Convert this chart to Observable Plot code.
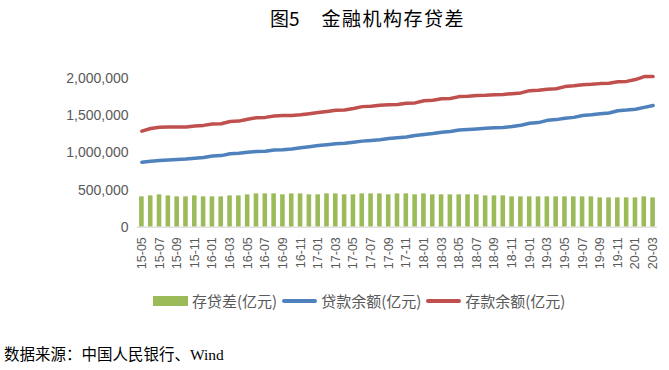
<!DOCTYPE html>
<html><head><meta charset="utf-8">
<script src="https://cdn.jsdelivr.net/npm/d3@7"></script>
<script src="https://cdn.jsdelivr.net/npm/@observablehq/plot@0.6"></script>
<style>
body{margin:0;background:#fff;}
#wrap{position:relative;width:669px;height:370px;overflow:hidden;background:#fff;}
#title{position:absolute;top:4px;left:270px;font-family:"Noto Sans CJK SC",sans-serif;font-size:19px;color:#000;white-space:nowrap;line-height:28px;}
#chart{position:absolute;top:40px;left:0;}
#legend{position:absolute;top:290px;left:153px;display:flex;align-items:center;font-family:"Noto Sans CJK SC",sans-serif;font-size:15px;color:#595959;white-space:nowrap;line-height:22px;}
#legend .sw{display:inline-block;width:35px;margin-right:4px;}
#legend .item{display:flex;align-items:center;margin-right:5px;}
#caption{position:absolute;top:342px;left:4px;font-family:"Noto Sans CJK SC",sans-serif;font-size:15.5px;color:#000;white-space:nowrap;line-height:22px;}
#caption .w{font-family:"Liberation Serif",serif;}
</style></head>
<body>
<div id="wrap">
  <div id="title"><span>图5</span><span style="margin-left:22px;letter-spacing:1.5px">金融机构存贷差</span></div>
  <div id="chart"></div>
  <div id="legend">
    <div class="item"><span class="sw" style="height:10px;background:#9BBB59"></span>存贷差(亿元)</div>
    <div class="item"><span class="sw" style="height:4px;border-radius:2px;background:#4F81BD"></span>贷款余额(亿元)</div>
    <div class="item"><span class="sw" style="height:4px;border-radius:2px;background:#C0504D"></span>存款余额(亿元)</div>
  </div>
  <div id="caption">数据来源：中国人民银行、<span class="w">Wind</span></div>
</div>
<script>
const months = [
  "15-05","15-06","15-07","15-08","15-09","15-10","15-11","15-12",
  "16-01","16-02","16-03","16-04","16-05","16-06","16-07","16-08","16-09","16-10","16-11","16-12",
  "17-01","17-02","17-03","17-04","17-05","17-06","17-07","17-08","17-09","17-10","17-11","17-12",
  "18-01","18-02","18-03","18-04","18-05","18-06","18-07","18-08","18-09","18-10","18-11","18-12",
  "19-01","19-02","19-03","19-04","19-05","19-06","19-07","19-08","19-09","19-10","19-11","19-12",
  "20-01","20-02","20-03"
];
// 存贷差(亿元)
const gap = [
  409000,422000,436000,422000,409000,409000,422000,409000,409000,409000,
  422000,422000,436000,449000,449000,449000,436000,449000,449000,436000,
  436000,449000,449000,436000,436000,449000,449000,449000,436000,449000,
  449000,436000,449000,436000,436000,436000,436000,436000,436000,422000,
  422000,422000,409000,409000,409000,409000,409000,409000,409000,409000,
  409000,409000,395000,395000,395000,395000,395000,409000,395000
];
// 贷款余额(亿元)
const loans = [
  876000,890000,900000,905000,912000,918000,930000,940000,960000,965000,
  990000,997000,1010000,1020000,1025000,1040000,1045000,1055000,1070000,1085000,
  1100000,1112000,1125000,1132000,1145000,1160000,1170000,1180000,1195000,1205000,
  1215000,1235000,1250000,1262000,1280000,1290000,1310000,1317000,1325000,1335000,
  1340000,1345000,1357000,1375000,1400000,1410000,1440000,1450000,1467000,1480000,
  1505000,1515000,1530000,1540000,1570000,1578000,1590000,1615000,1640000
];
// 存款余额(亿元)
const deposits = [
  1294000,1330000,1348000,1350000,1352000,1350000,1365000,1372000,1392000,1395000,
  1425000,1430000,1455000,1475000,1480000,1500000,1505000,1505000,1515000,1530000,
  1545000,1560000,1575000,1580000,1600000,1625000,1630000,1645000,1650000,1655000,
  1670000,1675000,1705000,1710000,1730000,1735000,1760000,1765000,1775000,1778000,
  1785000,1790000,1800000,1810000,1840000,1845000,1860000,1865000,1895000,1905000,
  1920000,1925000,1935000,1940000,1960000,1965000,1990000,2030000,2032000
];
const yTicks = [0, 500000, 1000000, 1500000, 2000000];

const rows = months.map((m, i) => ({i, m, gap: gap[i], loans: loans[i], deposits: deposits[i]}));
const xTicks = months.map((m, i) => i).filter(i => i % 2 === 0);

const chart = Plot.plot({
  width: 669,
  height: 260,
  marginTop: 38.3,
  marginBottom: 73.3,
  marginLeft: 137,
  marginRight: 12,
  style: {fontFamily: "'Liberation Sans', Arial, sans-serif", background: "transparent"},
  x: {domain: [-0.5, months.length - 0.5]},
  y: {domain: [0, 2000000]},
  marks: [
    Plot.rectY(rows, {x1: d => d.i - 0.26, x2: d => d.i + 0.26, y: "gap", fill: "#9BBB59"}),
    Plot.ruleY([0], {stroke: "#D9D9D9", strokeWidth: 1.3}),
    Plot.line(rows, {x: "i", y: "loans", stroke: "#4F81BD", strokeWidth: 3.5, strokeLinejoin: "round", strokeLinecap: "round"}),
    Plot.line(rows, {x: "i", y: "deposits", stroke: "#C0504D", strokeWidth: 3.5, strokeLinejoin: "round", strokeLinecap: "round"}),
    Plot.axisY({ticks: yTicks, tickFormat: d3.format(","), tickSize: 0, tickPadding: 9, fontSize: 14, fill: "#595959", label: null}),
    Plot.axisX({ticks: xTicks, tickFormat: i => months[i], tickRotate: -90, tickSize: 0, tickPadding: 10, fontSize: 12.5, fill: "#595959", label: null})
  ]
});
document.getElementById("chart").appendChild(chart);
</script>
</body></html>
